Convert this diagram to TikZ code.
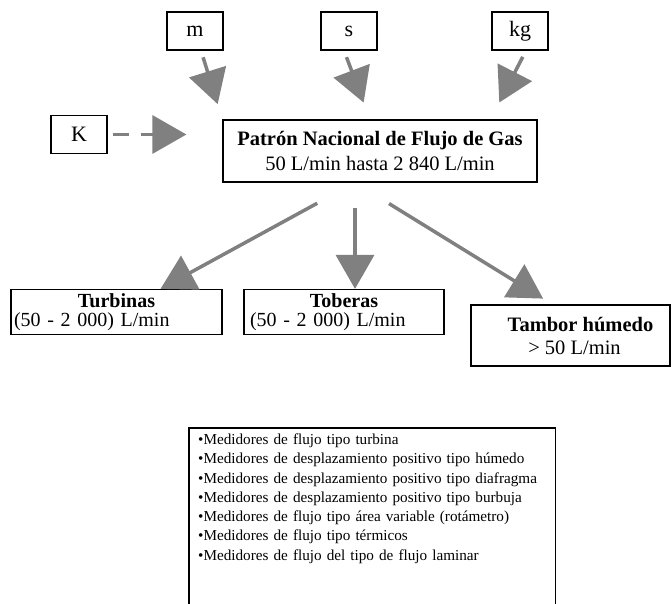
\documentclass[tikz,border=0pt]{standalone}
\usepackage{fontspec}
\setmainfont{Liberation Serif}
\usetikzlibrary{arrows.meta}

\begin{document}
\begin{tikzpicture}[x=1pt, y=-1pt,
    box/.style={draw, line width=1.2pt, inner sep=0pt},
    unit/.style={box, minimum width=56pt, minimum height=38pt, font=\fontsize{22}{26}\selectfont},
    rango/.style={box, minimum height=45pt, font=\fontsize{20}{19.5}\selectfont},
    flow/.style={draw=gray, line width=3.5pt, -{Triangle[length=34pt, width=38pt]}}]
  \useasboundingbox (0,0) rectangle (672,604);
  \clip (0,0) rectangle (672,604);
  % unidades
  \node[unit] (m) at (195,31) {m};
  \node[unit] (s) at (349,31) {s};
  \node[unit] (kg) at (520,31) {kg};
  \node[unit] (K) at (79,134.5) {K};
  % patron nacional
  \node[box, minimum width=314pt, minimum height=62pt, align=center,
    font=\fontsize{20.5}{25}\selectfont] (patron) at (380,151)
    {\textbf{Patrón Nacional de Flujo de Gas}\\50 L/min hasta 2 840 L/min};
  % intervalos
  \node[rango, minimum width=211pt, text width=205pt, align=left] (turb) at (116.5,312)
    {\makebox[\linewidth]{\textbf{Turbinas}}\\(50 - 2 000) L/min};
  \node[rango, minimum width=200pt, text width=188pt, align=left] (tob) at (344,312)
    {\makebox[\linewidth]{\textbf{Toberas}}\\(50 - 2 000) L/min};
  \node[rango, minimum width=199pt, minimum height=61pt, align=center,
    font=\fontsize{20.5}{23}\selectfont] (tamb) at (570.5,335.5)
    {\hspace*{20pt}\textbf{Tambor húmedo}\\\hspace*{8pt}> 50 L/min};
  % medidores
  \node[anchor=north west, text width=348pt, align=left, inner xsep=9pt, inner ysep=5.5pt,
    font=\fontsize{15.2}{19.3}\selectfont] (lista) at (189,428)
    {•Medidores de flujo tipo turbina\\
     •Medidores de desplazamiento positivo tipo húmedo\\
     •Medidores de desplazamiento positivo tipo diafragma\\
     •Medidores de desplazamiento positivo tipo burbuja\\
     •Medidores de flujo tipo área variable (rotámetro)\\
     •Medidores de flujo tipo térmicos\\
     •Medidores de flujo del tipo de flujo laminar};
  \draw[line width=1.2pt] (lista.north west) rectangle ([yshift=-200pt]lista.south east);
  % flechas
  \draw[flow, shorten <=7pt, shorten >=16pt] ([xshift=6pt]m.south) -- (patron.north west);
  \draw[flow, shorten <=7pt, shorten >=18pt] ([xshift=-5pt]s.south) -- ([xshift=-10pt]patron.north);
  \draw[flow, shorten <=7pt, shorten >=19pt] ([xshift=6pt]kg.south) -- ([xshift=-47pt]patron.north east);
  \draw[flow, dash pattern=on 16pt off 12pt, shorten <=5pt, shorten >=36pt] (K.east) -- (K.east -| patron.west);
  \coordinate (orig) at ([xshift=-25pt]patron.south);
  \draw[flow, shorten <=43pt] (orig) -- ([xshift=44pt]turb.north);
  \draw[flow, shorten <=25pt] (orig) -- (orig |- tob.north);
  \draw[flow, shorten <=40pt, shorten >=11pt] (orig) -- ([xshift=-18pt]tamb.north);
\end{tikzpicture}
\end{document}
